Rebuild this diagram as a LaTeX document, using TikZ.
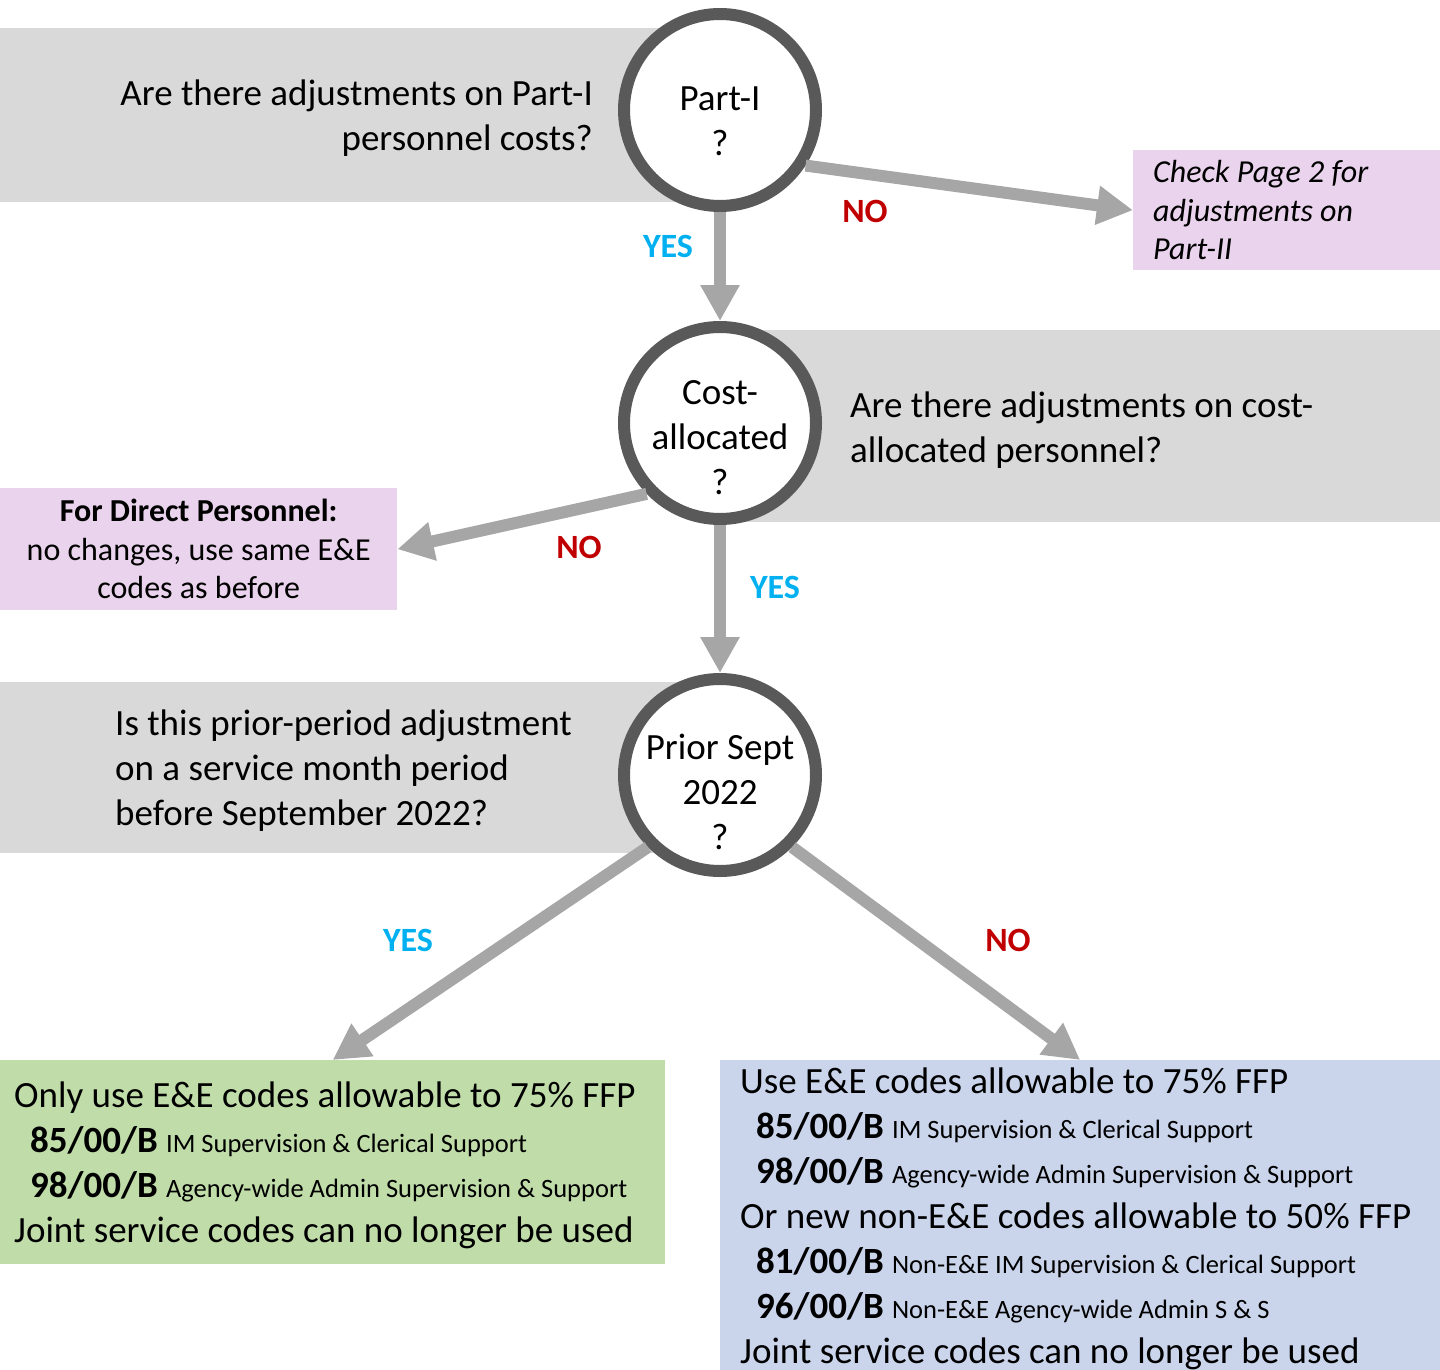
\documentclass[tikz,border=0pt]{standalone}
\usepackage{fontspec}
\setmainfont{Carlito}
\usepackage{tikz}
\usetikzlibrary{arrows.meta,positioning}
\definecolor{bandgray}{HTML}{D9D9D9}
\definecolor{ringgray}{HTML}{595959}
\definecolor{arrowgray}{HTML}{A6A6A6}
\definecolor{notepink}{HTML}{EAD3EC}
\definecolor{yesgreen}{HTML}{C0DDA9}
\definecolor{noblue}{HTML}{CAD5EC}
\definecolor{yescol}{HTML}{00B0F0}
\definecolor{nocol}{HTML}{C00000}
\newcommand{\mainsize}{\fontsize{37}{45}\selectfont}
\newcommand{\notesize}{\fontsize{32}{38.5}\selectfont}
\newcommand{\descsize}{\fontsize{26.5}{45}\selectfont}
\newcommand{\ffpcode}[2]{\hspace*{16pt}\textbf{#1} {\descsize #2}}
\tikzset{%
  every question/.style={
    circle,
    draw=ringgray,
    line width=12pt,
    fill=white,
    minimum size=192pt,
    inner sep=0pt
  },
  question text/.style={inner sep=0pt, align=center, font=\mainsize},
  band/.style={fill=bandgray},
  flow/.style={
    draw=arrowgray,
    line width=12pt,
    -{Triangle[length=36pt,width=37pt]}
  },
  yeslabel/.style={text=yescol, font=\fontsize{34}{40}\selectfont\bfseries},
  nolabel/.style={text=nocol, font=\fontsize{34}{40}\selectfont\bfseries},
  outcome/.style={anchor=north west, inner sep=0pt},
  outcome text/.style={anchor=west, inner sep=0pt, align=left, font=\mainsize},
}

\begin{document}
\begin{tikzpicture}[x=1pt, y=-1pt]
\useasboundingbox (0,0) rectangle (1440,1370);
% grey question bands
\fill[band] (0,28) rectangle (720,202);
\fill[band] (720,330) rectangle (1440,522);
\fill[band] (0,682) rectangle (720,853);
\node[anchor=east, inner sep=0pt, align=right, font=\mainsize] (partq) at (593,118.5)
    {Are there adjustments on Part-I\\personnel costs?};
\node[anchor=west, inner sep=0pt, align=left, font=\mainsize] (costq) at (850,430.5)
    {Are there adjustments on cost-\\allocated personnel?};
\node[anchor=west, inner sep=0pt, align=left, font=\mainsize] (priorq) at (115,770.5)
    {Is this prior-period adjustment\\on a service month period\\before September 2022?};
% decisions
\node[every question] (part) at (720,110) {};
\node[question text] (parttext) at ([yshift=-11.5pt]part.center) {Part-I\\?};
\node[every question] (cost) at (720,423) {};
\node[question text] (costtext) at ([yshift=-14.5pt]cost.center) {Cost-\\allocated\\?};
\node[every question] (prior) at (720,775) {};
\node[question text] (priortext) at ([yshift=-16.5pt]prior.center) {Prior Sept\\2022\\?};
% outcomes
\node[outcome, fill=notepink, minimum width=307pt, minimum height=120pt]
    (page2) at (1133,150) {};
\node[outcome text, font=\notesize\itshape, right=20pt of page2.west]
    (page2text) {Check Page 2 for\\adjustments on\\Part-II};
\node[outcome, fill=notepink, font=\notesize, align=center,
      minimum width=397pt, minimum height=122pt]
    (direct) at (0,488) {\textbf{For Direct Personnel:}\\no changes, use same E\&E\\codes as before};
\node[outcome, fill=yesgreen, minimum width=665pt, minimum height=204pt]
    (yesbox) at (0,1060) {};
\node[outcome text, right=14pt of yesbox.west, yshift=-3pt] (yestext)
    {Only use E\&E codes allowable to 75\% FFP\\
     \ffpcode{85/00/B}{IM Supervision \& Clerical Support}\\
     \ffpcode{98/00/B}{Agency-wide Admin Supervision \& Support}\\
     Joint service codes can no longer be used};
\node[outcome, fill=noblue, minimum width=720pt, minimum height=310pt]
    (nobox) at (720,1060) {};
\node[outcome text, right=20pt of nobox.west, yshift=-4pt] (notext)
    {Use E\&E codes allowable to 75\% FFP\\
     \ffpcode{85/00/B}{IM Supervision \& Clerical Support}\\
     \ffpcode{98/00/B}{Agency-wide Admin Supervision \& Support}\\
     Or new non-E\&E codes allowable to 50\% FFP\\
     \ffpcode{81/00/B}{Non-E\&E IM Supervision \& Clerical Support}\\
     \ffpcode{96/00/B}{Non-E\&E Agency-wide Admin S \& S}\\
     Joint service codes can no longer be used};
% connectors
\draw[flow] (part) -- (cost);
\draw[flow] (part.-33) -- (page2.west);
\draw[flow] (cost.-136) -- (direct.east);
\draw[flow] (cost) -- (prior);
\draw[flow] (prior.-135) -- (yesbox.north);
\draw[flow] (prior.-45) -- (nobox.north);
% answers
\node[yeslabel] (yes1) at (668,246) {YES};
\node[nolabel] (no1) at (865,211) {NO};
\node[nolabel] (no2) at (579,547) {NO};
\node[yeslabel] (yes2) at (775,587) {YES};
\node[yeslabel] (yes3) at (408,940) {YES};
\node[nolabel] (no3) at (1008,940) {NO};
\end{tikzpicture}
\end{document}
